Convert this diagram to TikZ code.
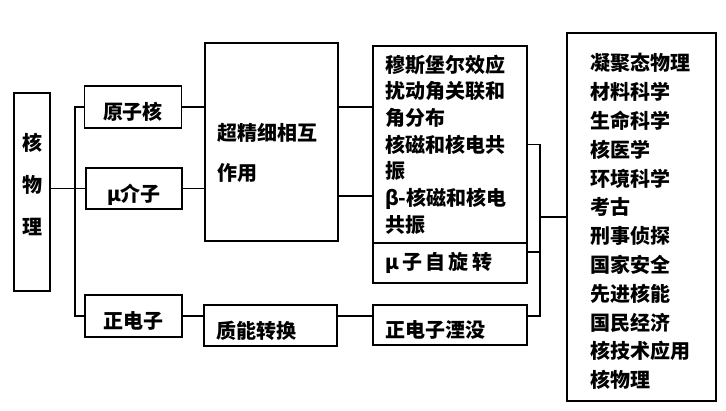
\documentclass[tikz,border=0pt]{standalone}
\usepackage{fontspec}
\newfontfamily\cjk{Noto Sans CJK SC}
\tikzset{
  boite/.style={draw, line width=1.4pt, inner sep=0pt},
  low/.style={text height=19pt, text depth=0pt},
  gauche/.style={align=left, inner xsep=9pt},
}
\newcommand{\zh}[1]{\cjk\bfseries\fontsize{15}{#1}\selectfont}
\begin{document}
\begin{tikzpicture}[x=0.75pt,y=-0.75pt,line width=1.4pt]
\useasboundingbox (0,0) rectangle (726,411);

\node[boite, minimum width=27pt, minimum height=148.5pt,
  label={[align=center, font=\zh{31.5pt}, yshift=6pt]center:核\\物\\理}] (hwl) at (32,192) {};
\node[boite, low, minimum width=72.75pt, minimum height=31.5pt, font=\zh{20pt}] (yzh) at (133,107) {原子核};
\node[boite, low, minimum width=72pt, minimum height=30.75pt, font=\zh{20pt}] (mu) at (134,188.5) {μ介子};
\node[boite, low, minimum width=72.75pt, minimum height=31.5pt, font=\zh{20pt}] (zdz) at (133.5,316) {正电子};

\node[boite, minimum width=99.75pt, minimum height=148.5pt,
  label={[align=left, text width=81.75pt, inner sep=0pt, font=\zh{30pt}, yshift=-8.25pt]center:超精细相互\\作用}] (cjx) at (271.5,142) {};
\node[boite, gauche, low, text width=81.75pt, minimum height=30.75pt, font=\zh{20pt}] (znzh) at (270.5,325.5) {质能转换};

\node[boite, gauche, text width=97.5pt, minimum height=147.75pt, font=\zh{20pt}] (yy) at (450,144.5) {穆斯堡尔效应\\扰动角关联和\\角分布\\核磁和核电共\\振\\β-核磁和核电\\共振};
\node[boite, gauche, text width=97.5pt, minimum height=30pt, font=\zh{20pt}] (zx) at (450,263) {μ\,子\,自\,旋\,转};
\node[boite, gauche, low, text width=97.5pt, minimum height=30pt, font=\zh{20pt}] (ymz) at (450,325) {正电子湮没};

\node[boite, minimum width=111.75pt, minimum height=276pt,
  label={[align=left, text width=77.25pt, inner sep=0pt, font=\zh{21.6pt}, yshift=-3.4pt]center:凝聚态物理\\材料科学\\生命科学\\核医学\\环境科学\\考古\\刑事侦探\\国家安全\\先进核能\\国民经济\\核技术应用\\核物理}] (app) at (641.5,217) {};

% left trunk
\coordinate (tr) at (75,0);
\draw (hwl.east |- mu.west) -- (mu.west);
\draw (yzh.west) -| (tr |- zdz.west) -- (zdz.west);

\draw (yzh.east) -- (yzh.east -| cjx.west);
\draw (mu.east) -- (mu.east -| cjx.west);
\draw (zdz.east) -- (zdz.east -| znzh.west);

\coordinate (c1) at (0,196);
\draw (cjx.east |- yzh.east) -- (yy.west |- yzh.east);
\draw (cjx.east |- c1) -- (yy.west |- c1);
\draw (znzh.east |- zdz.east) -- (ymz.west |- zdz.east);

% right bracket
\coordinate (br) at (540,0);
\coordinate (c2) at (0,252);
\draw (yy.east) -| (br |- zdz.east) -- (ymz.east |- zdz.east);
\draw (zx.east |- c2) -- (br |- c2);
\draw (br |- app.west) -- (app.west);

\end{tikzpicture}
\end{document}
